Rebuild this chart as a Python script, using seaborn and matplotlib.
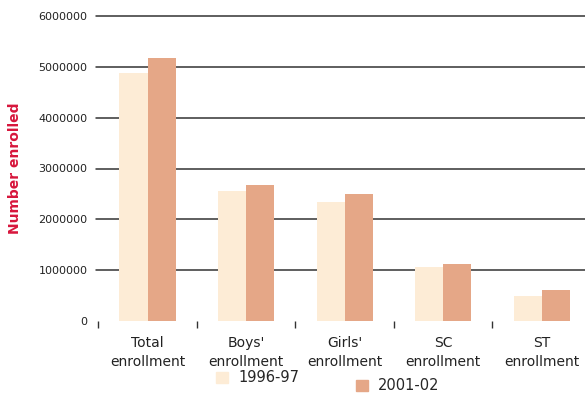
import pandas as pd
import seaborn as sns
import matplotlib.pyplot as plt
from matplotlib.patches import Patch

# data
categories = ["Total\nenrollment", "Boys'\nenrollment", "Girls'\nenrollment",
              "SC\nenrollment", "ST\nenrollment"]
years = ["1996-97", "2001-02"]
enrol_1996 = [4880000, 2560000, 2340000, 1060000, 490000]
enrol_2001 = [5180000, 2680000, 2500000, 1120000, 610000]
yticks = [0, 1000000, 2000000, 3000000, 4000000, 5000000, 6000000]
colors = ["#fdecd6", "#e5a787"]

df = pd.DataFrame({
    "category": categories * 2,
    "year": [years[0]] * 5 + [years[1]] * 5,
    "value": enrol_1996 + enrol_2001,
})

sns.set_style("white")
plt.rcParams['font.family'] = ['DejaVu Sans']

fig = plt.figure(figsize=(5.85, 4.07), dpi=100)
ax = fig.add_axes([96 / 585, 1 - 321 / 407, 1 - 96 / 585, (321 - 16) / 407])

sns.barplot(data=df, x="category", y="value", hue="year", palette=colors,
            width=0.57, linewidth=0, saturation=1, legend=False, ax=ax, zorder=3)

ax.set_ylim(0, 6000000)
ax.set_xlim(-0.523, 4.44)
ax.set_yticks(yticks)
ax.set_yticklabels([str(v) for v in yticks], fontsize=8, color="#222222")
ax.tick_params(axis="y", length=0, pad=6)
ax.grid(axis="y", color="#333333", linewidth=1.1, zorder=0)
for gl in ax.yaxis.get_gridlines():
    gl.set_clip_on(False)
ax.yaxis.get_gridlines()[0].set_visible(False)

ax.set_xticks(range(5))
ax.set_xticklabels(categories, fontsize=10, color="#222222", linespacing=1.45)
ax.tick_params(axis="x", which="major", length=0, pad=11)
ax.set_xticks([-0.5, 0.5, 1.5, 2.5, 3.5], minor=True)
ax.tick_params(axis="x", which="minor", length=5, width=1, color="#333333",
               direction="out", pad=2)
ax.xaxis.set_tick_params(which="minor", bottom=True)

for s in ax.spines.values():
    s.set_visible(False)

ax.set_xlabel("")
ax.set_ylabel("Number enrolled", color="#d7163c", fontsize=10, fontweight="bold",
              labelpad=12)

# staggered legend entries as in the reference
leg1 = fig.legend(handles=[Patch(color=colors[0], label=years[0])],
                  loc="center left", bbox_to_anchor=(203 / 585, 1 - 378 / 407),
                  frameon=False, fontsize=10.5, handlelength=0.8, handleheight=0.8,
                  handletextpad=0.7)
leg2 = fig.legend(handles=[Patch(color=colors[1], label=years[1])],
                  loc="center left", bbox_to_anchor=(343 / 585, 1 - 386 / 407),
                  frameon=False, fontsize=10.5, handlelength=0.8, handleheight=0.8,
                  handletextpad=0.7)

fig.savefig("out.png", dpi=100)
